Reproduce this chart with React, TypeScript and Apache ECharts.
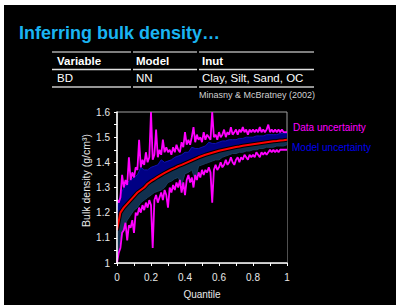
import React, { useEffect, useRef } from "react";
import * as echarts from "echarts";

const FONT = '"Liberation Sans", Arial, sans-serif';

const xTickLabels = ["0", "0.2", "0.4", "0.6", "0.8", "1"];
const yTickLabels = ["1", "1.1", "1.2", "1.3", "1.4", "1.5", "1.6"];

// Data uncertainty (magenta), sampled every 0.01 quantile
const dataUpper = [
  1.25, 1.24, 1.26, 1.35, 1.30, 1.33, 1.31, 1.42, 1.33, 1.36,
  1.34, 1.38, 1.37, 1.49, 1.38, 1.41, 1.39, 1.44, 1.40, 1.42,
  1.60, 1.41, 1.43, 1.53, 1.42, 1.45, 1.43, 1.49, 1.44, 1.46,
  1.44, 1.45, 1.43, 1.46, 1.44, 1.47, 1.45, 1.44, 1.48, 1.46,
  1.52, 1.47, 1.49, 1.47, 1.50, 1.54, 1.48, 1.51, 1.49, 1.50,
  1.48, 1.52, 1.49, 1.51, 1.50, 1.49, 1.60, 1.50, 1.51, 1.49,
  1.52, 1.50, 1.51, 1.53, 1.50, 1.52, 1.51, 1.54, 1.51, 1.52,
  1.53, 1.51, 1.53, 1.52, 1.54, 1.52, 1.53, 1.51, 1.53, 1.52,
  1.53, 1.52, 1.53, 1.52, 1.54, 1.52, 1.53, 1.52, 1.53, 1.55,
  1.52, 1.53, 1.52, 1.53, 1.52, 1.53, 1.52, 1.53, 1.52, 1.52, 1.52,
];
const dataLower = [
  1.00, 1.04, 1.06, 1.12, 1.13, 1.16, 1.09, 1.15, 1.14, 1.17,
  1.12, 1.20, 1.19, 1.22, 1.20, 1.23, 1.21, 1.24, 1.22, 1.25,
  1.23, 1.06, 1.25, 1.27, 1.24, 1.26, 1.28, 1.25, 1.29, 1.27,
  1.22, 1.30, 1.28, 1.31, 1.29, 1.32, 1.30, 1.33, 1.28, 1.32,
  1.27, 1.33, 1.35, 1.32, 1.34, 1.30, 1.35, 1.33, 1.36, 1.34,
  1.37, 1.35, 1.37, 1.36, 1.38, 1.36, 1.24, 1.37, 1.39, 1.37,
  1.38, 1.40, 1.38, 1.39, 1.41, 1.39, 1.40, 1.42, 1.40, 1.39,
  1.41, 1.42, 1.40, 1.42, 1.41, 1.43, 1.42, 1.41, 1.43, 1.42,
  1.43, 1.42, 1.44, 1.43, 1.42, 1.44, 1.43, 1.44, 1.43, 1.44,
  1.45, 1.44, 1.45, 1.44, 1.45, 1.44, 1.45, 1.45, 1.45, 1.45, 1.45,
];

// Model uncertainty band and median, sampled every 0.02 quantile
const modelUpper = [
  1.22, 1.27, 1.30, 1.32, 1.33, 1.34, 1.35, 1.38, 1.37, 1.37,
  1.38, 1.385, 1.39, 1.41, 1.40, 1.405, 1.41, 1.42, 1.425, 1.43,
  1.44, 1.44, 1.46, 1.455, 1.455, 1.46, 1.465, 1.48, 1.475, 1.475,
  1.48, 1.485, 1.485, 1.49, 1.49, 1.49, 1.495, 1.495, 1.50, 1.50,
  1.50, 1.505, 1.505, 1.505, 1.51, 1.51, 1.51, 1.51, 1.515, 1.515, 1.515,
];
const median = [
  1.13, 1.20, 1.22, 1.235, 1.25, 1.265, 1.28, 1.29, 1.30, 1.315,
  1.325, 1.333, 1.342, 1.35, 1.358, 1.365, 1.372, 1.378, 1.385, 1.39,
  1.396, 1.402, 1.408, 1.414, 1.42, 1.425, 1.43, 1.434, 1.438, 1.442,
  1.446, 1.449, 1.452, 1.455, 1.458, 1.461, 1.463, 1.466, 1.468, 1.47,
  1.472, 1.474, 1.476, 1.478, 1.48, 1.482, 1.484, 1.485, 1.487, 1.488, 1.49,
];
const modelLower = [
  1.02, 1.10, 1.14, 1.17, 1.19, 1.21, 1.22, 1.24, 1.25, 1.26,
  1.27, 1.28, 1.285, 1.29, 1.30, 1.32, 1.325, 1.335, 1.34, 1.31,
  1.355, 1.36, 1.37, 1.33, 1.385, 1.39, 1.395, 1.40, 1.405, 1.41,
  1.41, 1.42, 1.425, 1.43, 1.435, 1.435, 1.44, 1.44, 1.445, 1.445,
  1.45, 1.45, 1.455, 1.455, 1.46, 1.46, 1.46, 1.465, 1.465, 1.465, 1.47,
];

const pairs = (arr: number[]) => arr.map((v, i) => [i / (arr.length - 1), v]);

export default function App() {
  const ref = useRef<HTMLDivElement>(null);
  useEffect(() => {
    if (!ref.current) return;
    const chart = echarts.init(ref.current, null, { renderer: "svg" });
    const txt = (text: string, x: number, y: number, font: string, fill: string, align = "left") => ({
      type: "text",
      x,
      y,
      z: 100,
      style: { text, font, fill, align, verticalAlign: "middle" },
    });
    const hline = (x1: number, x2: number, y: number, stroke: string) => ({
      type: "line",
      z: 100,
      shape: { x1, y1: y, x2, y2: y },
      style: { stroke, lineWidth: 1.5 },
    });
    chart.setOption({
      animation: false,
      backgroundColor: "#ffffff",
      grid: {
        left: 117,
        top: 112,
        width: 170,
        height: 151,
        show: true,
        borderColor: "#a0a0a0",
        borderWidth: 1,
        backgroundColor: "transparent",
      },
      xAxis: {
        type: "value",
        min: 0,
        max: 1,
        interval: 0.1,
        z: 10,
        splitLine: { show: false },
        axisLine: { lineStyle: { color: "#ffffff", width: 1.5 } },
        axisTick: { show: true, length: 3, lineStyle: { color: "#ffffff" } },
        axisLabel: {
          color: "#e8e8e8",
          fontSize: 10,
          fontFamily: FONT,
          margin: 9,
          formatter: (v: number) => {
            const s = String(+v.toFixed(2));
            return xTickLabels.includes(s) ? s : "";
          },
        },
        name: "Quantile",
        nameLocation: "middle",
        nameGap: 26,
        nameTextStyle: { color: "#e8e8e8", fontSize: 10, fontFamily: FONT },
      },
      yAxis: {
        type: "value",
        min: 1,
        max: 1.6,
        interval: 0.05,
        z: 10,
        splitLine: { show: false },
        axisLine: { show: true, lineStyle: { color: "#ffffff", width: 1.5 } },
        axisTick: { show: true, length: 3, lineStyle: { color: "#ffffff" } },
        axisLabel: {
          color: "#e8e8e8",
          fontSize: 10,
          fontFamily: FONT,
          margin: 7,
          formatter: (v: number) => {
            const s = String(+v.toFixed(2));
            return yTickLabels.includes(s) ? s : "";
          },
        },
        name: "Bulk density (g/cm³)",
        nameLocation: "middle",
        nameGap: 26,
        nameTextStyle: { color: "#e8e8e8", fontSize: 10.5, fontFamily: FONT, padding: [0, 0, 0, 14] },
      },
      series: [
        {
          type: "line",
          data: pairs(modelUpper),
          symbol: "none",
          z: 2,
          lineStyle: { color: "#1010b0", width: 1 },
          areaStyle: { color: "#000084", opacity: 1, origin: "start" },
        },
        {
          type: "line",
          data: pairs(median),
          symbol: "none",
          z: 2,
          lineStyle: { width: 0 },
          areaStyle: { color: "#11304e", opacity: 1, origin: "start" },
        },
        {
          type: "line",
          data: pairs(modelLower),
          symbol: "none",
          z: 2,
          lineStyle: { color: "#1a3d60", width: 1 },
          areaStyle: { color: "#000000", opacity: 1, origin: "start" },
        },
        {
          type: "line",
          data: pairs(dataUpper),
          symbol: "none",
          z: 3,
          lineStyle: { color: "#ff00ff", width: 1.8 },
        },
        {
          type: "line",
          data: pairs(dataLower),
          symbol: "none",
          z: 3,
          lineStyle: { color: "#ff00ff", width: 1.8 },
        },
        {
          type: "line",
          data: pairs(median),
          symbol: "none",
          z: 4,
          lineStyle: { color: "#000000", width: 4 },
        },
        {
          type: "line",
          data: pairs(median),
          symbol: "none",
          z: 5,
          lineStyle: { color: "#ff0000", width: 2 },
        },
      ],
      graphic: [
        {
          type: "rect",
          z: -100,
          shape: { x: 4, y: 5, width: 392, height: 300 },
          style: { fill: "#000000" },
        },
        txt("Inferring bulk density…", 19, 33, `bold 18px ${FONT}`, "#1ab4f2"),
        hline(52, 131, 52, "#a8a8a8"),
        hline(133, 197, 52, "#a8a8a8"),
        hline(199, 314, 52, "#a8a8a8"),
        txt("Variable", 57, 61, `bold 11.5px ${FONT}`, "#ffffff"),
        txt("Model", 136, 61, `bold 11.5px ${FONT}`, "#ffffff"),
        txt("Inut", 202, 61, `bold 11.5px ${FONT}`, "#ffffff"),
        hline(52, 131, 69.5, "#e0e0e0"),
        hline(133, 197, 69.5, "#e0e0e0"),
        hline(199, 314, 69.5, "#e0e0e0"),
        txt("BD", 57, 78, `11.5px ${FONT}`, "#ffffff"),
        txt("NN", 136, 78, `11.5px ${FONT}`, "#ffffff"),
        txt("Clay, Silt, Sand, OC", 202, 78, `11.5px ${FONT}`, "#ffffff"),
        hline(52, 131, 87, "#c8c8c8"),
        hline(133, 197, 87, "#c8c8c8"),
        hline(199, 314, 87, "#c8c8c8"),
        txt("Minasny & McBratney (2002)", 315, 95, `9px ${FONT}`, "#d0d0d0", "right"),
        txt("Data uncertainty", 293, 127, `10px ${FONT}`, "#ff00ff"),
        txt("Model uncertainty", 292, 147, `10px ${FONT}`, "#0000f0"),
      ],
    });
    return () => chart.dispose();
  }, []);
  return (
    <div
      ref={ref}
      style={{ position: "fixed", left: 0, top: 0, width: 396, height: 305 }}
    />
  );
}
